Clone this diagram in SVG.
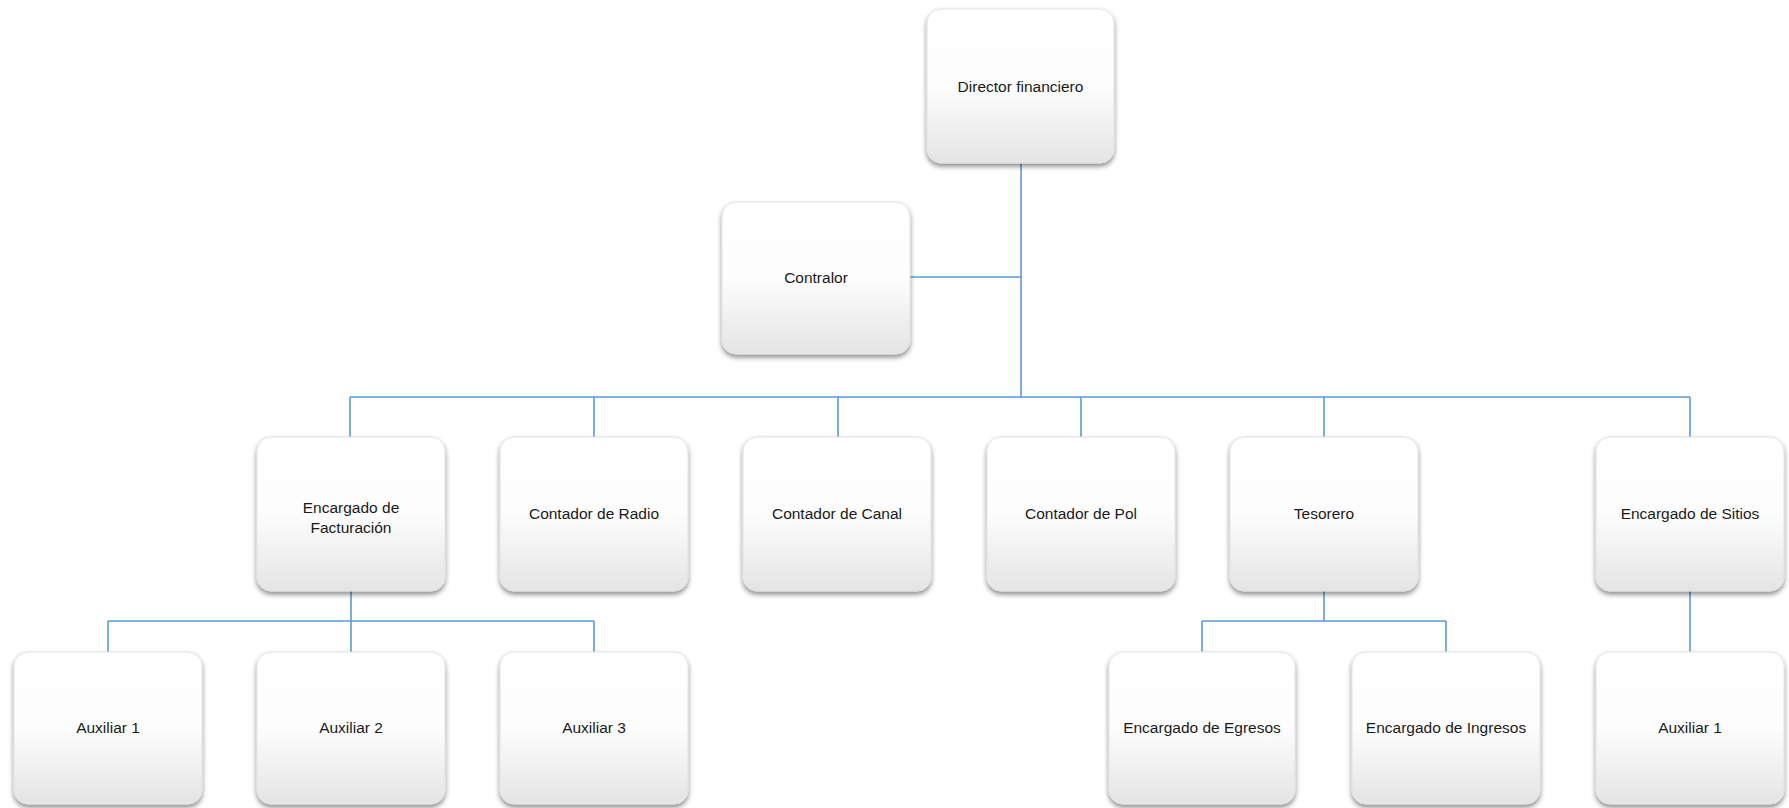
<svg xmlns="http://www.w3.org/2000/svg" width="1789" height="808" viewBox="0 0 1789 808">
<defs>
<linearGradient id="g" x1="0" y1="0" x2="0" y2="1">
<stop offset="0" stop-color="#ffffff"/>
<stop offset="0.5" stop-color="#fdfdfd"/>
<stop offset="1" stop-color="#e4e4e4"/>
</linearGradient>
<filter id="sh" x="-10%" y="-10%" width="120%" height="125%">
<feDropShadow dx="0" dy="3" stdDeviation="2.5" flood-color="#000" flood-opacity="0.45"/>
</filter>
</defs>
<style>
.box{fill:url(#g);stroke:#e2e2e2;stroke-width:1;filter:url(#sh)}
.t{font-family:"Liberation Sans",Arial,sans-serif;font-size:15.5px;fill:#1a1a1a;text-anchor:middle}
.c{fill:none;stroke:#5b9bd5;stroke-width:1.6}
</style>
<rect width="1789" height="808" fill="#ffffff"/>
<g id="connectors">
<path class="c" d="M1021 163V397M910 277H1021"/>
<path class="c" d="M350 397H1690M350 397V437M594 397V437M838 397V437M1081 397V437M1324 397V437M1690 397V437"/>
<path class="c" d="M351 591V621M108 621H594M108 621V652M351 621V652M594 621V652"/>
<path class="c" d="M1324 591V621M1202 621H1446M1202 621V652M1446 621V652"/>
<path class="c" d="M1690 591V652"/>
</g>
<g id="director"><rect class="box" x="927" y="9" width="187" height="154" rx="14"/><text class="t" x="1020.5" y="92">Director financiero</text></g>
<g id="contralor"><rect class="box" x="722" y="202" width="188" height="152" rx="14"/><text class="t" x="816" y="283">Contralor</text></g>
<g id="enc-facturacion"><rect class="box" x="257" y="437" width="188" height="154" rx="14"/><text class="t" x="351" y="513">Encargado de</text><text class="t" x="351" y="533">Facturación</text></g>
<g id="contador-radio"><rect class="box" x="500" y="437" width="188" height="154" rx="14"/><text class="t" x="594" y="519">Contador de Radio</text></g>
<g id="contador-canal"><rect class="box" x="743" y="437" width="188" height="154" rx="14"/><text class="t" x="837" y="519">Contador de Canal</text></g>
<g id="contador-pol"><rect class="box" x="987" y="437" width="188" height="154" rx="14"/><text class="t" x="1081" y="519">Contador de Pol</text></g>
<g id="tesorero"><rect class="box" x="1230" y="437" width="188" height="154" rx="14"/><text class="t" x="1324" y="519">Tesorero</text></g>
<g id="enc-sitios"><rect class="box" x="1596" y="437" width="188" height="154" rx="14"/><text class="t" x="1690" y="519">Encargado de Sitios</text></g>
<g id="auxiliar1"><rect class="box" x="14" y="652" width="188" height="152" rx="14"/><text class="t" x="108" y="733">Auxiliar 1</text></g>
<g id="auxiliar2"><rect class="box" x="257" y="652" width="188" height="152" rx="14"/><text class="t" x="351" y="733">Auxiliar 2</text></g>
<g id="auxiliar3"><rect class="box" x="500" y="652" width="188" height="152" rx="14"/><text class="t" x="594" y="733">Auxiliar 3</text></g>
<g id="enc-egresos"><rect class="box" x="1109" y="652" width="186" height="152" rx="14"/><text class="t" x="1202" y="733">Encargado de Egresos</text></g>
<g id="enc-ingresos"><rect class="box" x="1352" y="652" width="188" height="152" rx="14"/><text class="t" x="1446" y="733">Encargado de Ingresos</text></g>
<g id="auxiliar1-sitios"><rect class="box" x="1596" y="652" width="188" height="152" rx="14"/><text class="t" x="1690" y="733">Auxiliar 1</text></g>
</svg>
